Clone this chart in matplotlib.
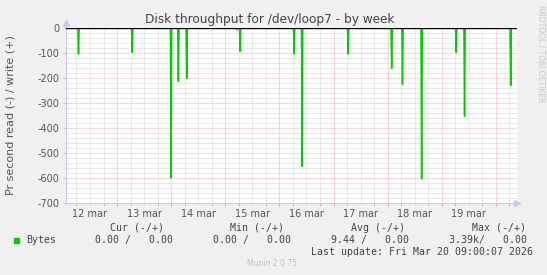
import matplotlib
matplotlib.use("Agg")
import matplotlib.pyplot as plt
import numpy as np

# spike times (day of March, fractional) and read values (bytes/s, negative = read)
spike_day = [12.288, 13.281, 13.998, 14.133, 14.288, 15.211, 15.274, 16.272, 16.420,
             17.270, 18.074, 18.274, 18.628, 19.266, 19.421, 20.274]
spike_val = [-104, -97, -600, -213, -201, -7, -93, -104, -553,
             -104, -161, -225, -604, -97, -353, -229]

day_labels = ["12 mar", "13 mar", "14 mar", "15 mar", "16 mar", "17 mar", "18 mar", "19 mar"]
day_start = [12, 13, 14, 15, 16, 17, 18, 19]

x_start, x_end = 12.057, 20.39

plt.rcParams['axes.unicode_minus'] = False
W, H = 547, 275
fig = plt.figure(figsize=(W / 100, H / 100), dpi=100, facecolor='#f0f0f0')
ax = fig.add_axes([66 / W, 1 - 203 / H, (517 - 66) / W, (203 - 28) / H])
ax.set_facecolor('white')

# build the line: zero baseline with a narrow spike at each sample
xs = [x_start]
ys = [0]
for d, v in zip(spike_day, spike_val):
    xs += [d - 0.012, d, d + 0.012]
    ys += [0, v, 0]
xs.append(x_end)
ys.append(0)

# grid
grey = '#cfcfcf'
red = '#f4a0a0'
dots = (0, (1.2, 1.2))
for yv in range(-700, 0, 20):
    if yv % 100:
        ax.axhline(yv, color=grey, lw=0.6, ls=dots, zorder=1)
for yv in range(-600, 0, 100):
    ax.axhline(yv, color=red, lw=0.6, ls=dots, zorder=1)
for d in np.arange(12.0, 20.5, 0.25):
    if x_start < d < x_end:
        if d == int(d):
            ax.axvline(d, color=red, lw=0.6, ls=dots, zorder=1)
        else:
            ax.axvline(d, color=grey, lw=0.6, ls=dots, zorder=1)

ax.plot(xs, ys, color='#00cc00', lw=1.1, zorder=3)
ax.axhline(0, color='black', lw=1.0, zorder=4)

ax.set_xlim(x_start, x_end)
ax.set_ylim(-700, 0)

# axes styling
for s in ['top', 'right']:
    ax.spines[s].set_visible(False)
ax.spines['left'].set_color('#c8c8f0')
ax.spines['bottom'].set_color('#c8c8f0')
ax.spines['left'].set_linewidth(0.8)
ax.spines['bottom'].set_linewidth(0.8)
ax.plot([1.0], [0], marker='>', color='#c8c8f0', ms=4, transform=ax.transAxes, clip_on=False)
ax.plot([0], [1.03], marker='^', color='#c8c8f0', ms=4, transform=ax.transAxes, clip_on=False)
ax.plot([0, 0], [1.0, 1.03], color='#c8c8f0', lw=0.8, transform=ax.transAxes, clip_on=False)

ax.set_yticks(range(-700, 1, 100))
ax.set_yticklabels([str(v) for v in range(-700, 1, 100)])
ax.tick_params(axis='y', length=2, color='#c8c8f0', labelsize=7, labelcolor='#555555', pad=3)

ax.set_xticks([d + 0.5 for d in day_start])
ax.set_xticklabels(day_labels)
ax.tick_params(axis='x', length=0, labelsize=7, labelcolor='#555555', pad=4)
ax.set_xticks([d for d in np.arange(12.25, 20.5, 0.25) if d < x_end], minor=True)
ax.tick_params(axis='x', which='minor', length=2, color='#e0a0a0')

ax.set_ylabel('Pr second read (-) / write (+)', fontsize=8, color='#555555')
ax.yaxis.set_label_coords(-0.112, 0.5)

fig.text(270 / W, 1 - 19 / H, 'Disk throughput for /dev/loop7 - by week', ha='center',
         va='center', fontsize=8.7, color='#444444')
fig.text(541 / W, 1 - 5 / H, 'RRDTOOL / TOBI OETIKER', rotation=-90, ha='center', va='top',
         fontsize=5.5, color='#c8c8c8')

# legend block
mono = dict(family='DejaVu Sans Mono', fontsize=7.1, color='#444444', va='center')
fig.text(164 / W, 1 - 228 / H, 'Cur (-/+)', ha='right', **mono)
fig.text(284 / W, 1 - 228 / H, 'Min (-/+)', ha='right', **mono)
fig.text(405 / W, 1 - 228 / H, 'Avg (-/+)', ha='right', **mono)
fig.text(526 / W, 1 - 228 / H, 'Max (-/+)', ha='right', **mono)

fig.patches.append(plt.Rectangle((14 / W, 1 - 243 / H), 5 / W, 5 / H, color='#00cc00',
                                 transform=fig.transFigure, figure=fig))
fig.text(26 / W, 1 - 240 / H, 'Bytes', ha='left', **mono)
fig.text(173 / W, 1 - 240 / H, '0.00 /   0.00', ha='right', **mono)
fig.text(291 / W, 1 - 240 / H, '0.00 /   0.00', ha='right', **mono)
fig.text(409 / W, 1 - 240 / H, '9.44 /   0.00', ha='right', **mono)
fig.text(527 / W, 1 - 240 / H, '3.39k/   0.00', ha='right', **mono)
fig.text(533 / W, 1 - 252 / H, 'Last update: Fri Mar 20 09:00:07 2026', ha='right', **mono)

fig.text(272 / W, 1 - 264 / H, 'Munin 2.0.75', ha='center', va='center', fontsize=5.5,
         color='#c0c0c0')

fig.savefig('out.png', dpi=100, facecolor=fig.get_facecolor())
